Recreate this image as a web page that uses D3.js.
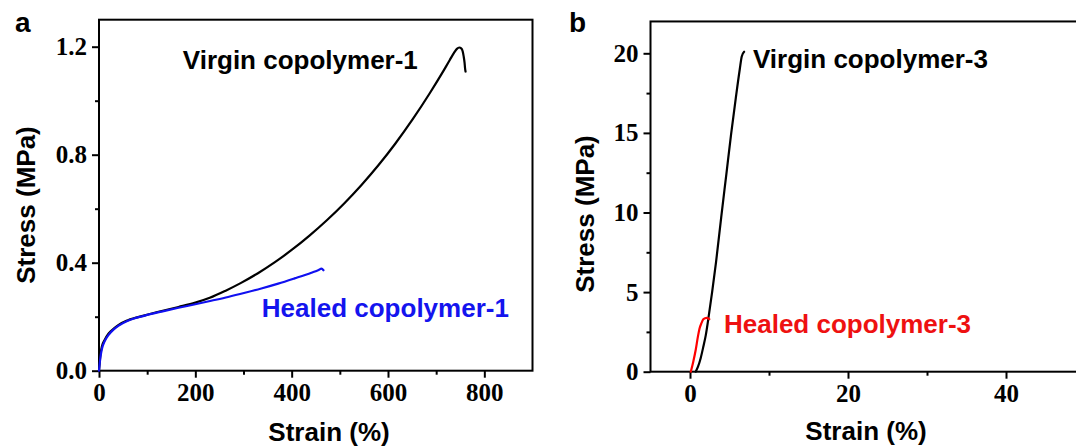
<!DOCTYPE html>
<html>
<head>
<meta charset="utf-8">
<script src="https://cdn.jsdelivr.net/npm/d3@7"></script>
<style>
  html, body { margin: 0; padding: 0; background: #fff; }
  svg { display: block; }
</style>
</head>
<body>
<svg id="chart" width="1076" height="448"></svg>
<script>
// ---------- Data ----------
// Panel a: strain (%) vs stress (MPa)
const virgin1 = [[0,0],[3,0.06],[6,0.09],[12,0.115],[20,0.138],[30,0.155],[40,0.169],[60,0.187],[95,0.205],[130,0.221],[165,0.236],[200,0.252],[230,0.27],[262,0.2956],[294,0.3244],[330,0.3611],[366,0.4029],[400,0.4471],[437,0.5004],[473,0.5573],[509,0.6196],[545,0.688],[580,0.7608],[615,0.8406],[651,0.9306],[687,1.0285],[712,1.101],[728,1.15],[737,1.177],[743,1.192],[748,1.197],[752,1.194],[755,1.183],[757,1.165],[759,1.14],[760,1.12],[761,1.108]];
const healed1 = [[0,0],[3,0.05],[6,0.08],[12,0.11],[20,0.133],[30,0.152],[40,0.166],[60,0.185],[95,0.204],[130,0.219],[165,0.233],[200,0.246],[233,0.259],[268,0.273],[303,0.2885],[337,0.3045],[372,0.3225],[406,0.342],[441,0.363],[456,0.373],[462,0.378],[466,0.372]];
// Panel b
const virgin3 = [[0.72,0],[1.0,0.3],[1.35,0.85],[1.7,1.6],[2.0,2.3],[2.4,3.6],[2.8,5.0],[3.3,6.9],[3.95,9.7],[4.6,12.4],[5.2,14.9],[5.8,17.2],[6.3,19.0],[6.55,19.8],[6.85,20.1]];
const healed3 = [[0.1,0],[0.4,0.6],[0.72,1.36],[1.0,2.2],[1.2,2.7],[1.45,3.05],[1.7,3.3],[2.1,3.38],[2.45,3.3]];

// Axis ticks
const xTicksA = [0, 200, 400, 600, 800];
const xMinorA = [100, 300, 500, 700];
const yTicksA = [0.0, 0.4, 0.8, 1.2];
const yMinorA = [0.2, 0.6, 1.0];
const xTicksB = [0, 20, 40];
const xMinorB = [10, 30];
const yTicksB = [0, 5, 10, 15, 20];
const yMinorB = [2.5, 7.5, 12.5, 17.5];

// Annotations (data coordinates)
const labelsA = [
  {text: "Virgin copolymer-1", x: 174, y: 1.119, color: "#000000"},
  {text: "Healed copolymer-1", x: 338, y: 0.199, color: "#1414ee"}
];
const labelsB = [
  {text: "Virgin copolymer-3", x: 7.97, y: 19.06, color: "#000000"},
  {text: "Healed copolymer-3", x: 4.3, y: 2.41, color: "#ee1111"}
];

// ---------- Drawing ----------
const svg = d3.select("#chart");
const sansBold = "'Liberation Sans', Arial, sans-serif";
const serifBold = "'Liberation Serif', 'Times New Roman', serif";

function panel(opts) {
  const {x, y, xTicks, xMinor, yTicks, yMinor, xFmt, yFmt, series, labels, letter, letterPos, yTitlePos, xTitlePos} = opts;
  const g = svg.append("g");
  const [x0, x1] = x.range();
  const [y0, y1] = y.range();

  // frame
  g.append("rect")
    .attr("x", x0).attr("y", y1)
    .attr("width", x1 - x0).attr("height", y0 - y1)
    .attr("fill", "none").attr("stroke", "#000").attr("stroke-width", 2);

  // axes
  const styleAxis = sel => {
    sel.select(".domain").remove();
    sel.selectAll(".tick line").attr("stroke", "#000").attr("stroke-width", 2);
    sel.selectAll("text").attr("font-family", serifBold).attr("font-weight", "bold")
      .attr("font-size", 25).attr("fill", "#000");
  };
  g.append("g").attr("transform", `translate(0,${y0})`)
    .call(d3.axisBottom(x).tickValues(xTicks).tickFormat(xFmt).tickSize(7).tickPadding(6))
    .call(styleAxis);
  g.append("g").attr("transform", `translate(0,${y0})`)
    .call(d3.axisBottom(x).tickValues(xMinor).tickFormat("").tickSize(4))
    .call(styleAxis);
  g.append("g").attr("transform", `translate(${x0},0)`)
    .call(d3.axisLeft(y).tickValues(yTicks).tickFormat(yFmt).tickSize(7).tickPadding(5))
    .call(styleAxis);
  g.append("g").attr("transform", `translate(${x0},0)`)
    .call(d3.axisLeft(y).tickValues(yMinor).tickFormat("").tickSize(4))
    .call(styleAxis);

  // series
  const line = d3.line().x(d => x(d[0])).y(d => y(d[1])).curve(d3.curveMonotoneX);
  series.forEach(s => {
    g.append("path").datum(s.data)
      .attr("d", line)
      .attr("fill", "none").attr("stroke", s.color).attr("stroke-width", 2.2)
      .attr("stroke-linejoin", "round").attr("stroke-linecap", "round");
  });

  // labels
  labels.forEach(l => {
    g.append("text").attr("x", x(l.x)).attr("y", y(l.y))
      .attr("font-family", sansBold).attr("font-weight", "bold").attr("font-size", 26)
      .attr("fill", l.color).text(l.text);
  });

  // axis titles
  g.append("text")
    .attr("transform", `translate(${yTitlePos[0]},${yTitlePos[1]}) rotate(-90)`)
    .attr("text-anchor", "middle")
    .attr("font-family", sansBold).attr("font-weight", "bold").attr("font-size", 26)
    .text("Stress (MPa)");
  g.append("text")
    .attr("x", xTitlePos[0]).attr("y", xTitlePos[1])
    .attr("text-anchor", "middle")
    .attr("font-family", sansBold).attr("font-weight", "bold").attr("font-size", 26)
    .text("Strain (%)");

  // panel letter
  g.append("text").attr("x", letterPos[0]).attr("y", letterPos[1])
    .attr("font-family", sansBold).attr("font-weight", "bold").attr("font-size", 28)
    .text(letter);
}

// Panel a
const xA = d3.scaleLinear().domain([0, 900]).range([99, 532.5]);
const yA = d3.scaleLinear().domain([0, 1.3]).range([370.7, 19.7]);
panel({
  x: xA, y: yA,
  xTicks: xTicksA, xMinor: xMinorA, yTicks: yTicksA, yMinor: yMinorA,
  xFmt: d3.format("d"), yFmt: d3.format(".1f"),
  series: [{data: virgin1, color: "#000000"}, {data: healed1, color: "#1010f0"}],
  labels: labelsA, letter: "a", letterPos: [15, 32],
  yTitlePos: [35, 205], xTitlePos: [329, 441]
});

// Panel b
const xB = d3.scaleLinear().domain([-5, 60]).range([650.5, 650.5 + 65 * 7.9]);
const yB = d3.scaleLinear().domain([0, 22]).range([371.7, 371.7 - 22 * 15.92]);
panel({
  x: xB, y: yB,
  xTicks: xTicksB, xMinor: xMinorB, yTicks: yTicksB, yMinor: yMinorB,
  xFmt: d3.format("d"), yFmt: d3.format("d"),
  series: [{data: virgin3, color: "#000000"}, {data: healed3, color: "#ff0000"}],
  labels: labelsB, letter: "b", letterPos: [569, 32],
  yTitlePos: [594, 214], xTitlePos: [866, 440]
});
</script>
</body>
</html>
